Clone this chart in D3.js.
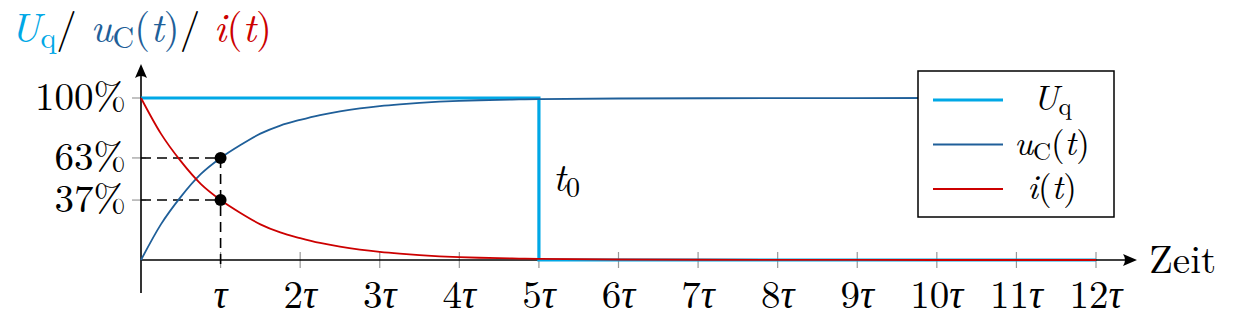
<!DOCTYPE html>
<html>
<head>
<meta charset="utf-8">
<script src="https://cdn.jsdelivr.net/npm/d3@7"></script>
</head>
<body style="margin:0; background:#fff">
<svg id="chart" width="1244" height="322"></svg>
<script>
// data (time in units of tau, values in fraction of 100%)
const tValues = [0, 0.25, 0.5, 0.75, 1, 1.25, 1.5, 1.75, 2, 2.25, 2.5, 2.75, 3, 3.25, 3.5, 3.75, 4, 4.25, 4.5, 4.75, 5, 6, 8, 10, 12]
const ucValues = [0, 0.22, 0.39, 0.53, 0.63, 0.71, 0.78, 0.83, 0.865, 0.895, 0.918, 0.936, 0.95, 0.961, 0.97, 0.977, 0.982, 0.986, 0.989, 0.991, 0.993, 0.997, 0.999, 1, 1]
const iValues = [1, 0.78, 0.61, 0.47, 0.37, 0.29, 0.22, 0.17, 0.135, 0.105, 0.082, 0.064, 0.05, 0.039, 0.03, 0.023, 0.018, 0.014, 0.011, 0.009, 0.007, 0.003, 0.001, 0, 0]
const uqT = [0, 5, 5, 12]
const uqValues = [1, 1, 0, 0]
const xTicks = [1, 2, 3, 4, 5, 6, 7, 8, 9, 10, 11, 12]
const yTicks = [0.37, 0.63, 1]
const yTickLabels = ['37%', '63%', '100%']
const markT = 1
const markValues = [0.63, 0.37]

const colUq = '#00a8e6'
const colUc = '#1f5f99'
const colI = '#cc0000'
const serif = '"Latin Modern Roman", "Liberation Serif", serif'
const fs = 39

const svg = d3.select('#chart')

//scales
const x = d3.scaleLinear().domain([0, 12]).range([141, 1096])
const y = d3.scaleLinear().domain([0, 1]).range([260, 98])

//ticks
svg.append('g')
    .selectAll('line')
    .data(xTicks)
    .enter()
    .append('line')
    .attr('x1', d => x(d)).attr('x2', d => x(d))
    .attr('y1', 252).attr('y2', 268)
    .attr('stroke', '#999').attr('stroke-width', 1.2)

svg.append('g')
    .selectAll('line')
    .data(yTicks)
    .enter()
    .append('line')
    .attr('x1', 132).attr('x2', 146)
    .attr('y1', d => y(d)).attr('y2', d => y(d))
    .attr('stroke', '#999').attr('stroke-width', 1.2)

//axes lines
svg.append('line')
    .attr('x1', x(0)).attr('x2', 1128)
    .attr('y1', y(0)).attr('y2', y(0))
    .attr('stroke', '#000').attr('stroke-width', 1.6)
svg.append('line')
    .attr('x1', x(0)).attr('x2', x(0))
    .attr('y1', 293).attr('y2', 72)
    .attr('stroke', '#000').attr('stroke-width', 1.6)

// arrow heads
const ax = 1137, ay = y(0)
svg.append('path')
    .attr('d', `M${ax},${ay} L${ax - 14},${ay - 6} Q${ax - 10},${ay} ${ax - 14},${ay + 6} Z`)
    .attr('fill', '#000')
const bx = x(0), by = 64
svg.append('path')
    .attr('d', `M${bx},${by} L${bx - 6},${by + 14} Q${bx},${by + 10} ${bx + 6},${by + 14} Z`)
    .attr('fill', '#000')

//dashed helper lines
svg.append('g')
    .selectAll('line')
    .data(markValues)
    .enter()
    .append('line')
    .attr('x1', x(0)).attr('x2', x(markT))
    .attr('y1', d => y(d)).attr('y2', d => y(d))
    .attr('stroke', '#000').attr('stroke-width', 1.6)
    .attr('stroke-dasharray', '10,6')
svg.append('line')
    .attr('x1', x(markT)).attr('x2', x(markT))
    .attr('y1', y(markValues[0])).attr('y2', y(0) + 8)
    .attr('stroke', '#000').attr('stroke-width', 1.6)
    .attr('stroke-dasharray', '10,6')

//curves
const line = d3.line()
    .x(d => x(d[0]))
    .y(d => y(d[1]))
    .curve(d3.curveMonotoneX)

svg.append('path')
    .datum(uqT.map((t, k) => [t, uqValues[k]]))
    .attr('d', d3.line().x(d => x(d[0])).y(d => y(d[1])))
    .attr('fill', 'none').attr('stroke', colUq).attr('stroke-width', 3.2)

svg.append('path')
    .datum(tValues.map((t, k) => [t, ucValues[k]]))
    .attr('d', line)
    .attr('fill', 'none').attr('stroke', colUc).attr('stroke-width', 1.8)

svg.append('path')
    .datum(tValues.map((t, k) => [t, iValues[k]]))
    .attr('d', line)
    .attr('fill', 'none').attr('stroke', colI).attr('stroke-width', 1.8)

//marks
svg.append('g')
    .selectAll('circle')
    .data(markValues)
    .enter()
    .append('circle')
    .attr('cx', x(markT))
    .attr('cy', d => y(d))
    .attr('r', 6)
    .attr('fill', '#000')

//tick labels
svg.append('g')
    .selectAll('text')
    .data(xTicks)
    .enter()
    .append('text')
    .attr('x', d => x(d))
    .attr('y', 308)
    .attr('text-anchor', 'middle')
    .style('font-family', serif)
    .style('font-size', fs + 'px')
    .each(function (d) {
        const t = d3.select(this)
        if (d !== 1) t.append('tspan').text(d)
        t.append('tspan').style('font-style', 'italic').text('τ')
    })

svg.append('g')
    .selectAll('text')
    .data(yTicks)
    .enter()
    .append('text')
    .attr('x', 126)
    .attr('y', d => y(d) + 12)
    .attr('text-anchor', 'end')
    .style('font-family', serif)
    .style('font-size', fs + 'px')
    .text((d, k) => yTickLabels[k])

svg.append('text')
    .attr('x', 1149).attr('y', 273)
    .style('font-family', serif)
    .style('font-size', fs + 'px')
    .text('Zeit')

// t0 label
const t0 = svg.append('text')
    .attr('x', 553).attr('y', 191)
    .style('font-family', serif)
    .style('font-size', fs + 'px')
t0.append('tspan').style('font-style', 'italic').text('t')
t0.append('tspan').attr('dy', 6).style('font-size', '28px').text('0')

//title
const title = svg.append('text')
    .attr('x', 10).attr('y', 42)
    .style('font-family', serif)
    .style('font-size', '41px')
title.append('tspan').attr('fill', colUq).style('font-style', 'italic').text('U')
title.append('tspan').attr('fill', colUq).attr('dy', 6).style('font-size', '30px').text('q')
title.append('tspan').attr('dy', -6).text('/ ')
title.append('tspan').attr('fill', colUc).style('font-style', 'italic').text('u')
title.append('tspan').attr('fill', colUc).attr('dy', 6).style('font-size', '30px').text('C')
title.append('tspan').attr('fill', colUc).attr('dy', -6).text('(')
title.append('tspan').attr('fill', colUc).style('font-style', 'italic').text('t')
title.append('tspan').attr('fill', colUc).text(')')
title.append('tspan').text('/ ')
title.append('tspan').attr('fill', colI).style('font-style', 'italic').text('i')
title.append('tspan').attr('fill', colI).text('(')
title.append('tspan').attr('fill', colI).style('font-style', 'italic').text('t')
title.append('tspan').attr('fill', colI).text(')')

//legend
const legend = svg.append('g')
legend.append('rect')
    .attr('x', 918).attr('y', 71)
    .attr('width', 196).attr('height', 146)
    .attr('fill', '#fff').attr('stroke', '#000').attr('stroke-width', 1.5)

const legendItems = [
    { color: colUq, width: 3.2, parts: [['U', 'i'], ['q', 's']] },
    { color: colUc, width: 1.8, parts: [['u', 'i'], ['C', 's'], ['(', 'n'], ['t', 'i'], [')', 'n']] },
    { color: colI, width: 1.8, parts: [['i', 'i'], ['(', 'n'], ['t', 'i'], [')', 'n']] }
]
legendItems.forEach((item, k) => {
    const ly = 100 + k * 44.5
    legend.append('line')
        .attr('x1', 933).attr('x2', 1003)
        .attr('y1', ly).attr('y2', ly)
        .attr('stroke', item.color).attr('stroke-width', item.width)
    const txt = legend.append('text')
        .attr('x', 1052).attr('y', ly + 10)
        .attr('text-anchor', 'middle')
        .style('font-family', serif)
        .style('font-size', '35px')
    let shifted = false
    item.parts.forEach(p => {
        const ts = txt.append('tspan').text(p[0])
        if (p[1] === 'i') ts.style('font-style', 'italic')
        if (p[1] === 's') { ts.attr('dy', 5).style('font-size', '25px'); shifted = true }
        else if (shifted) { ts.attr('dy', -5); shifted = false }
    })
})
</script>
</body>
</html>
